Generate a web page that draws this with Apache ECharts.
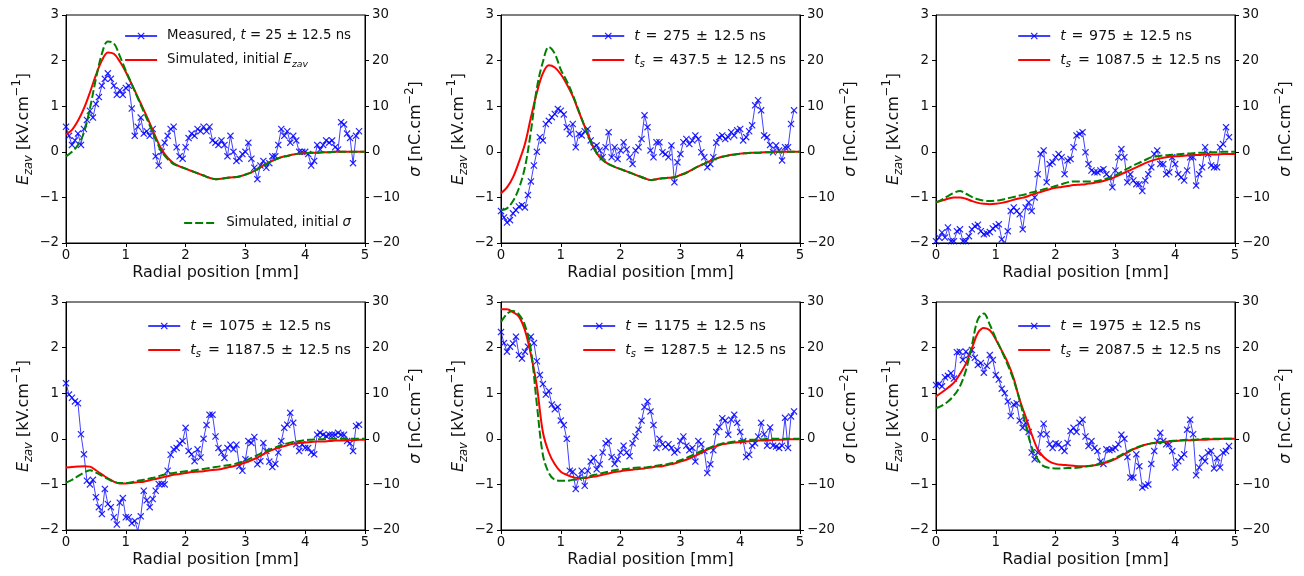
<!DOCTYPE html>
<html>
<head>
<meta charset="utf-8">
<script src="https://cdn.jsdelivr.net/npm/echarts@6/dist/echarts.min.js"></script>
<style>html,body{margin:0;padding:0;background:#fff}#c{width:1304px;height:576px}</style>
</head>
<body>
<div id="c"></div>
<script>
// ---------- DATA ----------
const xMeas = [0,0.05,0.1,0.15,0.2,0.25,0.3,0.35,0.4,0.45,0.5,0.55,0.6,0.65,0.7,0.75,0.8,0.85,0.9,0.95,
1,1.05,1.1,1.15,1.2,1.25,1.3,1.35,1.4,1.45,1.5,1.55,1.6,1.65,1.7,1.75,1.8,1.85,1.9,1.95,
2,2.05,2.1,2.15,2.2,2.25,2.3,2.35,2.4,2.45,2.5,2.55,2.6,2.65,2.7,2.75,2.8,2.85,2.9,2.95,
3,3.05,3.1,3.15,3.2,3.25,3.3,3.35,3.4,3.45,3.5,3.55,3.6,3.65,3.7,3.75,3.8,3.85,3.9,3.95,
4,4.05,4.1,4.15,4.2,4.25,4.3,4.35,4.4,4.45,4.5,4.55,4.6,4.65,4.7,4.75,4.8,4.85,4.9];
const xSim = [0,0.1,0.2,0.3,0.4,0.5,0.6,0.7,0.8,0.9,1,1.1,1.2,1.3,1.4,1.5,1.6,1.7,1.8,1.9,
2,2.1,2.2,2.3,2.4,2.5,2.6,2.7,2.8,2.9,3,3.1,3.2,3.3,3.4,3.5,3.6,3.7,3.8,3.9,
4,4.1,4.2,4.3,4.4,4.5,4.6,4.7,4.8,4.9,5];

const meas1 = [0.55,0.35,0.15,0.25,0.4,0.15,0.5,0.7,0.9,0.75,
1.05,1.2,1.45,1.6,1.72,1.6,1.45,1.25,1.35,1.25,
1.4,1.45,0.95,0.35,0.55,0.75,0.4,0.45,0.35,0.5,
-0.1,-0.3,0.0,0.2,0.35,0.5,0.55,0.1,-0.1,-0.15,
0.1,0.3,0.4,0.35,0.5,0.45,0.55,0.45,0.55,0.25,
0.2,0.15,0.25,0.15,-0.1,0.35,0.0,-0.2,-0.15,-0.05,
0.0,0.2,-0.15,-0.35,-0.6,-0.3,-0.2,-0.35,-0.25,-0.1,
-0.1,0.15,0.5,0.35,0.45,0.2,0.35,0.25,0.0,0.0,
0.0,-0.05,-0.3,-0.2,0.15,0.05,0.15,0.25,0.2,0.25,
0.1,0.05,0.65,0.6,0.4,0.3,-0.25,0.35,0.45];
const meas2 = [-1.3,-1.44,-1.55,-1.5,-1.35,-1.28,-1.2,-1.17,-1.22,-0.95,
-0.65,-0.3,0.0,0.32,0.25,0.61,0.68,0.76,0.83,0.94,
0.9,0.82,0.54,0.39,0.61,0.1,0.39,0.36,0.45,0.5,
0.25,0.1,0.14,0.03,-0.12,0.1,0.43,-0.12,0.1,-0.16,
0.03,0.21,0.05,-0.12,-0.27,0.03,0.1,0.28,0.8,0.54,
0.03,-0.12,0.21,0.21,-0.01,-0.05,-0.12,0.14,-0.67,-0.23,
-0.05,0.21,0.28,0.17,0.25,0.36,0.28,-0.01,-0.12,-0.34,
-0.27,-0.12,0.2,0.32,0.36,0.28,0.32,0.43,0.36,0.47,
0.5,0.25,0.32,0.45,0.58,1.02,1.13,0.91,0.36,0.32,
0.15,-0.01,0.14,0.03,-0.19,0.1,0.1,0.61,0.91];
const meas3 = [-1.96,-1.88,-1.77,-1.88,-1.66,-1.96,-1.96,-1.74,-1.7,-1.96,
-1.96,-1.85,-1.7,-1.63,-1.6,-1.74,-1.81,-1.79,-1.76,-1.68,
-1.63,-1.59,-1.92,-2.05,-1.74,-1.3,-1.22,-1.3,-1.37,-1.7,
-1.22,-1.11,-1.3,-1.0,-0.49,-0.05,0.03,-0.67,-0.27,-0.23,
-0.12,-0.05,-0.12,-0.49,-0.19,-0.16,0.1,0.36,0.39,0.43,
-0.01,-0.27,-0.41,-0.45,-0.45,-0.41,-0.38,-0.49,-0.56,-0.78,
-0.41,-0.12,0.06,-0.12,-0.67,-0.49,-0.63,-0.71,-0.71,-0.86,
-0.63,-0.49,-0.34,-0.05,0.03,-0.27,-0.27,-0.49,-0.45,-0.12,
-0.27,-0.49,-0.56,-0.63,-0.41,-0.12,-0.12,-0.74,-0.49,-0.34,
0.1,-0.05,-0.3,-0.34,-0.34,0.1,0.17,0.54,0.32];
const meas4 = [1.22,0.97,0.9,0.82,0.78,0.1,-0.34,-0.92,-1.0,-0.9,
-1.28,-1.5,-1.65,-1.1,-1.43,-1.5,-1.72,-1.88,-1.4,-1.3,
-1.72,-1.72,-1.85,-1.8,-2.02,-1.7,-1.14,-1.35,-1.5,-1.32,
-1.14,-0.99,-0.99,-1.0,-0.7,-0.35,-0.23,-0.2,-0.1,-0.05,
0.24,-0.27,-0.34,-0.49,-0.23,-0.41,0.0,0.3,0.53,0.53,
0.05,-0.2,-0.3,-0.42,-0.2,-0.13,-0.23,-0.13,-0.6,-0.7,
-0.45,-0.05,-0.09,0.04,-0.56,-0.49,-0.09,-0.27,-0.5,-0.62,
-0.55,-0.3,-0.05,0.24,0.31,0.57,0.35,-0.12,-0.27,-0.12,
-0.2,-0.2,-0.3,-0.34,0.09,0.13,0.09,0.06,0.09,0.09,
0.09,0.13,0.09,0.09,-0.05,-0.1,-0.27,0.28,0.31];
const meas5 = [2.34,2.1,1.91,2.02,2.09,2.24,1.84,1.76,1.91,2.02,
2.24,2.1,1.7,1.4,1.2,0.97,1.05,0.75,0.65,0.7,
0.4,0.3,0.0,-0.7,-0.72,-1.1,-0.85,-0.7,-1.03,-0.7,
-0.5,-0.42,-0.67,-0.56,-0.3,-0.1,-0.05,-0.4,-0.55,-0.45,
-0.3,-0.15,-0.3,-0.38,-0.1,0.05,0.2,0.4,0.7,0.82,
0.6,0.3,-0.2,0.0,-0.12,-0.18,-0.12,-0.2,-0.3,-0.25,
-0.05,0.05,-0.15,-0.25,-0.2,-0.5,-0.05,-0.12,-0.27,-0.75,
-0.56,-0.25,0.15,0.26,0.45,0.4,0.09,0.42,0.53,0.35,
0.15,-0.05,-0.4,-0.35,-0.15,-0.1,0.05,0.35,0.1,-0.15,
0.25,-0.15,-0.17,-0.2,-0.15,0.46,-0.2,0.49,0.6];
const meas6 = [1.18,1.2,1.15,1.35,1.38,1.44,1.32,1.9,1.91,1.73,
1.91,1.84,1.95,1.78,1.62,1.66,1.45,1.6,1.84,1.73,
1.4,1.3,1.1,1.0,0.82,0.5,0.75,0.78,0.4,0.24,
0.35,0.15,-0.3,-0.45,-0.3,0.1,0.33,0.1,-0.12,-0.2,
-0.1,-0.12,-0.2,-0.27,-0.09,0.17,0.24,0.15,0.35,0.42,
0.05,-0.16,-0.05,-0.2,-0.27,-0.5,-0.55,-0.23,-0.25,-0.23,
-0.2,-0.12,0.09,0.0,-0.4,-0.85,-0.85,-0.34,-0.6,-1.07,
-1.03,-1.0,-0.55,-0.27,-0.05,0.13,-0.05,-0.12,-0.12,-0.27,
-0.63,-0.49,-0.41,-0.34,0.2,0.42,0.1,-0.8,-0.63,-0.42,
-0.49,-0.3,-0.27,-0.65,-0.42,-0.63,-0.3,-0.27,-0.16];

const red1 = [0.38,0.48,0.68,0.95,1.3,1.68,2.0,2.18,2.15,1.98,1.75,1.48,1.2,0.92,0.63,0.32,0.05,-0.13,-0.25,-0.32,
-0.37,-0.42,-0.47,-0.52,-0.57,-0.6,-0.59,-0.57,-0.56,-0.54,-0.5,-0.45,-0.38,-0.3,-0.23,-0.17,-0.12,-0.09,-0.06,-0.04,
-0.03,-0.02,-0.02,-0.01,-0.01,0,0,0,0,0,0];
const green1 = [-0.1,0.0,0.15,0.42,0.95,1.6,2.15,2.42,2.38,2.1,1.78,1.48,1.18,0.88,0.58,0.27,0.0,-0.16,-0.27,-0.32,
-0.37,-0.42,-0.47,-0.52,-0.57,-0.6,-0.59,-0.57,-0.56,-0.54,-0.5,-0.45,-0.38,-0.3,-0.23,-0.17,-0.12,-0.09,-0.06,-0.04,
-0.03,-0.02,-0.02,-0.01,-0.01,0,0,0,0,0,0];
const red2 = [-0.91,-0.78,-0.56,-0.22,0.17,0.75,1.3,1.72,1.9,1.85,1.7,1.48,1.22,0.88,0.55,0.22,-0.03,-0.18,-0.27,-0.33,
-0.38,-0.43,-0.48,-0.53,-0.58,-0.62,-0.6,-0.58,-0.57,-0.56,-0.51,-0.46,-0.39,-0.32,-0.26,-0.2,-0.15,-0.11,-0.08,-0.06,
-0.04,-0.03,-0.02,-0.02,-0.01,-0.01,0,0,0,0,0];
const green2 = [-1.28,-1.24,-1.08,-0.8,-0.34,0.45,1.4,1.97,2.3,2.15,1.8,1.55,1.25,0.9,0.55,0.22,-0.03,-0.18,-0.27,-0.33,
-0.38,-0.43,-0.48,-0.53,-0.58,-0.62,-0.6,-0.58,-0.57,-0.56,-0.51,-0.46,-0.39,-0.32,-0.26,-0.2,-0.15,-0.11,-0.08,-0.06,
-0.04,-0.03,-0.02,-0.02,-0.01,-0.01,0,0,0,0,0];
const red3 = [-1.11,-1.07,-1.03,-1.0,-1.0,-1.03,-1.08,-1.12,-1.14,-1.15,-1.14,-1.12,-1.09,-1.05,-1.02,-0.99,-0.94,-0.9,-0.86,-0.82,
-0.79,-0.77,-0.75,-0.73,-0.72,-0.71,-0.69,-0.67,-0.64,-0.6,-0.55,-0.49,-0.43,-0.37,-0.31,-0.25,-0.2,-0.16,-0.13,-0.11,
-0.1,-0.09,-0.08,-0.07,-0.07,-0.06,-0.06,-0.06,-0.05,-0.05,-0.05];
const green3 = [-1.11,-1.05,-0.97,-0.9,-0.86,-0.92,-0.99,-1.04,-1.07,-1.08,-1.07,-1.05,-1.02,-0.99,-0.96,-0.93,-0.89,-0.86,-0.82,-0.79,
-0.75,-0.71,-0.67,-0.65,-0.65,-0.65,-0.65,-0.64,-0.61,-0.57,-0.52,-0.44,-0.37,-0.3,-0.24,-0.18,-0.12,-0.1,-0.08,-0.07,
-0.06,-0.05,-0.04,-0.03,-0.02,-0.02,-0.01,-0.01,0,0,0];
const red4 = [-0.63,-0.62,-0.61,-0.6,-0.61,-0.69,-0.78,-0.87,-0.94,-0.98,-0.98,-0.97,-0.95,-0.94,-0.91,-0.88,-0.85,-0.82,-0.79,-0.77,
-0.75,-0.73,-0.72,-0.71,-0.69,-0.68,-0.66,-0.63,-0.6,-0.56,-0.52,-0.47,-0.41,-0.34,-0.27,-0.22,-0.18,-0.14,-0.11,-0.09,
-0.08,-0.07,-0.06,-0.06,-0.05,-0.04,-0.04,-0.03,-0.03,-0.02,-0.02];
const green4 = [-0.96,-0.9,-0.82,-0.74,-0.69,-0.74,-0.81,-0.88,-0.94,-0.97,-0.97,-0.95,-0.92,-0.9,-0.87,-0.84,-0.8,-0.77,-0.75,-0.73,
-0.71,-0.7,-0.68,-0.66,-0.64,-0.62,-0.6,-0.58,-0.56,-0.52,-0.48,-0.42,-0.36,-0.29,-0.24,-0.19,-0.14,-0.1,-0.07,-0.05,
-0.03,-0.02,-0.01,-0.01,0,0,0,0,0,0,0];
const red5 = [2.84,2.84,2.78,2.68,2.38,1.85,1.15,0.15,-0.3,-0.56,-0.72,-0.79,-0.84,-0.86,-0.86,-0.84,-0.82,-0.79,-0.76,-0.73,
-0.71,-0.69,-0.68,-0.66,-0.65,-0.63,-0.61,-0.6,-0.57,-0.54,-0.5,-0.46,-0.4,-0.34,-0.27,-0.21,-0.16,-0.12,-0.1,-0.08,
-0.07,-0.06,-0.05,-0.04,-0.04,-0.03,-0.02,-0.02,-0.01,-0.01,-0.01];
const green5 = [2.56,2.74,2.8,2.73,2.49,1.95,0.75,-0.35,-0.75,-0.9,-0.92,-0.92,-0.9,-0.87,-0.85,-0.81,-0.78,-0.75,-0.72,-0.69,
-0.67,-0.66,-0.64,-0.63,-0.63,-0.61,-0.59,-0.57,-0.55,-0.52,-0.47,-0.42,-0.36,-0.3,-0.24,-0.19,-0.14,-0.1,-0.08,-0.06,
-0.04,-0.03,-0.02,-0.02,-0.01,0,0,0,0,0,0];
const red6 = [0.93,1.02,1.12,1.23,1.42,1.65,1.98,2.32,2.43,2.38,2.18,1.93,1.67,1.32,0.85,0.48,0.1,-0.23,-0.4,-0.5,
-0.55,-0.57,-0.58,-0.59,-0.6,-0.6,-0.59,-0.57,-0.54,-0.5,-0.44,-0.37,-0.3,-0.23,-0.18,-0.13,-0.1,-0.08,-0.07,-0.06,
-0.05,-0.04,-0.03,-0.03,-0.02,-0.02,-0.01,-0.01,0,0,0];
const green6 = [0.67,0.73,0.82,0.95,1.15,1.5,2.05,2.62,2.75,2.5,2.2,1.92,1.62,1.28,0.85,0.3,-0.18,-0.45,-0.6,-0.64,
-0.65,-0.65,-0.64,-0.64,-0.63,-0.61,-0.59,-0.56,-0.52,-0.48,-0.42,-0.35,-0.28,-0.22,-0.17,-0.13,-0.1,-0.08,-0.07,-0.05,
-0.04,-0.03,-0.02,-0.02,-0.01,0,0,0,0,0,0];

const measTimes = ['25','275','975','1075','1175','1975'];
const simTimes = [null,'437.5','1087.5','1187.5','1287.5','2087.5'];
const xRange = [0, 5, 1];
const yLeftRange = [-2, 3, 1];
const yRightRange = [-20, 30, 10];

const measured = [meas1, meas2, meas3, meas4, meas5, meas6];
const reds = [red1, red2, red3, red4, red5, red6];
const greens = [green1, green2, green3, green4, green5, green6];

// ---------- LAYOUT / STYLE ----------
const FONT = 'DejaVu Sans';
const TXT = '#111';
const colLeft = [66, 501, 936];
const rowTop = [15, 302];
const GW = 299, GH = 228;
const minus = v => String(v).replace('-', '\u2212');
const xSym = 'path://M0,1.2L1.2,0L5,3.8L8.8,0L10,1.2L6.2,5L10,8.8L8.8,10L5,6.2L1.2,10L0,8.8L3.8,5Z';

function legendRich(fs) {
  return {
    g: {width: 5},
    s: {width: 1.2},
    ss: {width: 2.5},
    n: {fontFamily: FONT, fontSize: fs, color: TXT, lineHeight: 18},
    i: {fontFamily: FONT, fontSize: fs, fontStyle: 'italic', color: TXT, lineHeight: 18},
    isub: {fontFamily: FONT, fontSize: fs * 0.7, fontStyle: 'italic', color: TXT, lineHeight: 8, verticalAlign: 'bottom'}
  };
}
const labelMap = {};
const nameRich = {
  e: {fontFamily: FONT, fontSize: 16, fontStyle: 'italic', color: TXT, lineHeight: 24},
  sub: {fontFamily: FONT, fontSize: 11.5, fontStyle: 'italic', color: TXT, lineHeight: 10, verticalAlign: 'bottom'},
  n: {fontFamily: FONT, fontSize: 16, color: TXT, lineHeight: 24},
  sup: {fontFamily: FONT, fontSize: 11.5, color: TXT, lineHeight: 10, verticalAlign: 'top'}
};

const grids = [], xAxes = [], yAxes = [], series = [], legends = [];
for (let k = 0; k < 6; k++) {
  const c = k % 3, r = Math.floor(k / 3);
  const left = colLeft[c], top = rowTop[r];
  grids.push({left: left, top: top, width: GW, height: GH, show: true, borderColor: '#000', borderWidth: 1, backgroundColor: 'transparent'});
  const axLine = {show: true, onZero: false, lineStyle: {color: '#000', width: 1}};
  const axTick = {show: true, inside: false, length: 4, lineStyle: {color: '#000', width: 1}};
  xAxes.push({
    gridIndex: k, type: 'value', min: xRange[0], max: xRange[1], interval: xRange[2],
    name: 'Radial position [mm]', nameLocation: 'middle', nameGap: 22,
    nameTextStyle: {fontFamily: FONT, fontSize: 16, color: TXT},
    axisLine: axLine, axisTick: axTick, splitLine: {show: false},
    axisLabel: {fontFamily: FONT, fontSize: 13.3, color: TXT, margin: 6, formatter: minus}
  });
  yAxes.push({
    gridIndex: k, type: 'value', position: 'left', min: yLeftRange[0], max: yLeftRange[1], interval: yLeftRange[2],
    name: '{e|E}{sub|zav}{n| [kV.cm}{sup|\u22121}{n|]}', nameLocation: 'middle', nameGap: 28, nameRotate: 90,
    nameTextStyle: {rich: nameRich},
    axisLine: axLine, axisTick: axTick, splitLine: {show: false},
    axisLabel: {fontFamily: FONT, fontSize: 13.3, color: TXT, margin: 7, formatter: minus}
  });
  yAxes.push({
    gridIndex: k, type: 'value', position: 'right', min: yRightRange[0], max: yRightRange[1], interval: yRightRange[2],
    name: '{e|\u03c3}{n| [nC.cm}{sup|\u22122}{n|]}', nameLocation: 'middle', nameGap: 38, nameRotate: 90,
    nameTextStyle: {rich: nameRich},
    axisLine: axLine, axisTick: axTick, splitLine: {show: false},
    axisLabel: {fontFamily: FONT, fontSize: 13.3, color: TXT, margin: 7, formatter: minus}
  });

  const mName = 'meas' + (k + 1), rName = 'sim' + (k + 1), gName = 'green' + (k + 1);
  if (k === 0) {
    labelMap[mName] = '{g|}{n|Measured, }{i|t}{n| = ' + measTimes[k] + ' \u00b1 12.5 ns}';
    labelMap[rName] = '{g|}{n|Simulated, initial }{i|E}{isub|zav}';
    labelMap[gName] = '{g|}{n|Simulated, initial }{i|\u03c3}';
  } else {
    labelMap[mName] = '{g|}{i|t}{s|}{n| = }{s|}{n|' + measTimes[k] + ' }{s|}{n|\u00b1 }{s|}{n|12.5 ns}';
    labelMap[rName] = '{g|}{i|t}{isub|s}{ss|}{n| = }{s|}{n|' + simTimes[k] + ' }{s|}{n|\u00b1 }{s|}{n|12.5 ns}';
  }

  series.push({
    name: mName, type: 'line', xAxisIndex: k, yAxisIndex: 2 * k, z: 2,
    data: xMeas.map((x, i) => [x, measured[k][i]]),
    symbol: xSym, symbolSize: 7, showSymbol: true, showAllSymbol: true,
    lineStyle: {color: '#0000ff', width: 1, opacity: 0.75},
    itemStyle: {color: '#0000ff', opacity: 0.85},
    clip: true, animation: false
  });
  series.push({
    name: rName, type: 'line', xAxisIndex: k, yAxisIndex: 2 * k, z: 3,
    data: xSim.map((x, i) => [x, reds[k][i]]), smooth: 0.35,
    symbol: 'none', lineStyle: {color: '#ff0000', width: 2}, itemStyle: {color: '#ff0000'},
    clip: true, animation: false
  });
  series.push({
    name: gName, type: 'line', xAxisIndex: k, yAxisIndex: 2 * k, z: 4,
    data: xSim.map((x, i) => [x, greens[k][i]]), smooth: 0.35,
    symbol: 'none', lineStyle: {color: '#008000', width: 2, type: [8, 3]}, itemStyle: {color: '#008000'},
    clip: true, animation: false
  });

  const textRight = left + GW - 14;
  const fs = k === 0 ? 13.3 : 14.2;
  const legTop = top + (r === 0 ? 12 : 15);
  legends.push({
    data: [{name: mName}, {name: rName, itemStyle: {opacity: 0}}],
    orient: 'vertical', right: 1304 - textRight, top: legTop,
    padding: 0, itemGap: 6, itemWidth: 32, itemHeight: 9, selectedMode: false,
    formatter: n => labelMap[n], textStyle: {lineHeight: 18, rich: legendRich(fs)}
  });
  if (k === 0) {
    legends.push({
      data: [{name: gName, itemStyle: {opacity: 0}}],
      orient: 'vertical', right: 1304 - textRight, top: top + 199,
      padding: 0, itemGap: 6, itemWidth: 32, itemHeight: 9, selectedMode: false,
      formatter: n => labelMap[n], textStyle: {lineHeight: 18, rich: legendRich(fs)}
    });
  }
}

const chart = echarts.init(document.getElementById('c'), null, {renderer: 'canvas'});
chart.setOption({
  animation: false,
  backgroundColor: '#fff',
  grid: grids, xAxis: xAxes, yAxis: yAxes, series: series, legend: legends
});
</script>
</body>
</html>
